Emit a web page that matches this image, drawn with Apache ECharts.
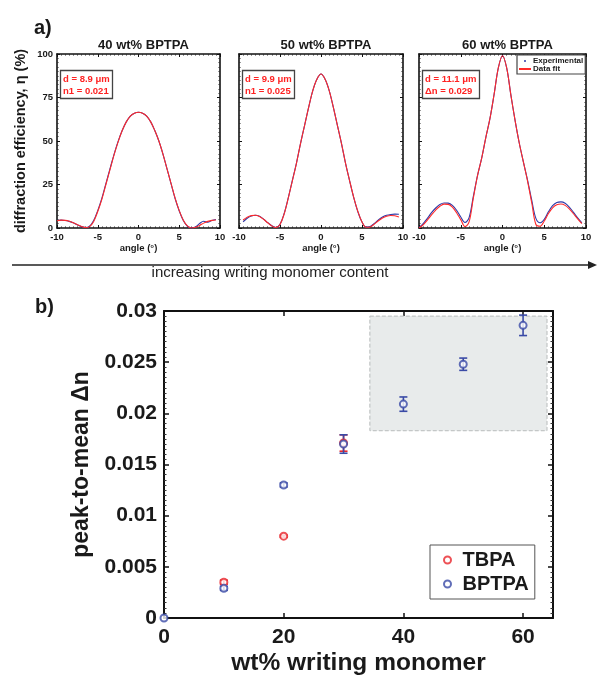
<!DOCTYPE html>
<html><head><meta charset="utf-8">
<script src="https://cdn.jsdelivr.net/npm/echarts@6/dist/echarts.min.js"></script>
<style>html,body{margin:0;padding:0;background:#fff}#c{width:597px;height:680px}</style>
</head><body><div id="c"></div>
<script>
// ---------- DATA ----------
const angles = [-10,-9.5,-9,-8.5,-8,-7.5,-7,-6.5,-6,-5.5,-5,-4.5,-4,-3.5,-3,-2.5,-2,-1.5,-1,-0.5,0,0.5,1,1.5,2,2.5,3,3.5,4,4.5,5,5.5,6,6.5,7,7.5,8,8.5,9,9.5,10];
const exp40 = [4.3,4.5,4.3,3.8,3.0,1.8,0.8,0.2,1.0,4.3,10,17,25.5,34,42.3,49.8,56,61,64.3,66,66.5,66,64.3,61,56,50,42.5,34,25.3,16.8,9.8,4.3,1.0,0.1,0.6,2.6,3.9,3.3,4.3,4.9,null];
const fit40 = [4.2,4.5,4.4,3.9,3.0,1.9,0.9,0.2,0.8,3.8,9.5,16.5,25,33.5,42,49.5,56,61,64.3,66,66.5,66,64.3,61,56,50,42.5,34,25.5,17,10,4.5,1.2,0,0.4,1.5,2.8,3.8,4.4,4.6,null];
const exp50 = [null,3.6,5.6,6.9,7.3,6.7,5.1,3.1,1.3,0.3,2.1,8.2,17.2,27.2,37.2,48.5,59,69.5,79,85.5,88.5,85.5,79,69.5,59,48.5,37,27,17.3,9.3,3.4,0.5,0.8,2.6,4.6,6.3,7.3,7.8,8.0,7.9,null];
const fit50 = [null,4.6,6.2,7.1,7.3,6.6,5.0,3.0,1.2,0.2,2.0,8,17,27,37,48.5,59,69.5,79,85.5,88.5,85.5,79,69.5,59,48.5,37,27,17.5,9.5,3.5,0.4,0.6,2.2,4.2,5.8,6.8,7.2,7.0,6.3,null];
const exp60 = [0.3,2.5,5.5,8.8,11.5,13.5,14.4,14.3,13,10.2,6.3,3.2,6,18,30,40,52,63,77,92,99,92,76.5,62,49,38,27.5,16,5.5,3.0,5,9.3,12.8,14.7,15,14.2,12,9,5.8,3,null];
const fit60 = [0,1.8,4.5,7.5,10.3,12.5,13.7,13.6,12,8.8,4.8,0.8,3.5,17,30,40,52,63,77,92,99,92,76.5,62,49,38,27,14.5,2,1,4,8.3,11.6,13.3,13.8,13,11,8.2,5.2,2.5,null];
const panelTitles = ['40 wt% BPTPA','50 wt% BPTPA','60 wt% BPTPA'];
const panelNotes = ['d = 8.9 μm\nn1 = 0.021','d = 9.9 μm\nn1 = 0.025','d = 11.1 μm\nΔn = 0.029'];
const angleTicks = [-10,-5,0,5,10];
const effTicks = [0,25,50,75,100];

const wt = [0,10,20,30,40,50,60];
const bptpa = [0,0.0029,0.0130,0.0170,0.0209,0.0248,0.0286];
const bptpaErr = [0,0.0002,0.0002,0.0009,0.0007,0.0006,0.0010];
const tbpaWt = [10,20,30];
const tbpa = [0.0035,0.0080,0.0171];
const tbpaErr = [0.0002,0.0001,0.0008];
const highlightBox = {x:[34.4,64], y:[0.0183,0.0295]};

// ---------- STYLE ----------
const RED='#ff2a2a', BLUE='#2d3aa8', BRED='#e8262c', BBLUE='#3a4aa6', INK='#1a1a1a';
const FONT='Liberation Sans';
function pairs(xs, ys){ return xs.map((x,i)=>[x,ys[i]]).filter(p=>p[1]!=null); }

const gridsA = [
  {left:57, top:54, width:163, height:174},
  {left:239, top:54, width:164, height:174},
  {left:419, top:54, width:167, height:174}
];
const gridB = {left:164, top:311, width:389, height:307};

const xAxes=[], yAxes=[], series=[], titles=[];
const lineAx = {onZero:false, lineStyle:{color:'#111', width:1.6}};
gridsA.forEach((g,i)=>{
  const common = {gridIndex:i, type:'value', min:angleTicks[0], max:angleTicks[angleTicks.length-1], interval:5,
    axisLine:lineAx, splitLine:{show:false},
    axisTick:{inside:true, length:3, lineStyle:{color:'#111'}},
    minorTick:{show:true, splitNumber:10, length:1.5, lineStyle:{color:'#333'}}};
  xAxes.push(Object.assign({}, common, {position:'bottom',
    axisLabel:{fontSize:9.5, fontWeight:'bold', color:INK, margin:4, fontFamily:FONT},
    name:'angle (°)', nameLocation:'middle', nameGap:13,
    nameTextStyle:{fontSize:9.5, fontWeight:'bold', color:INK, fontFamily:FONT}}));
  xAxes.push(Object.assign({}, common, {position:'top', axisLabel:{show:false}}));
  const ycommon = {gridIndex:i, type:'value', min:effTicks[0], max:effTicks[effTicks.length-1], interval:25,
    axisLine:lineAx, splitLine:{show:false},
    axisTick:{inside:true, length:3, lineStyle:{color:'#111'}},
    minorTick:{show:true, splitNumber:10, length:1.5, lineStyle:{color:'#333'}}};
  yAxes.push(Object.assign({}, ycommon, {position:'left',
    axisLabel:{show:i===0, fontSize:9.5, fontWeight:'bold', color:INK, margin:4, fontFamily:FONT},
    name: i===0 ? 'diffraction efficiency, η (%)' : '', nameLocation:'middle', nameGap:29,
    nameTextStyle:{fontSize:14.5, fontWeight:'bold', color:INK, fontFamily:FONT}}));
  yAxes.push(Object.assign({}, ycommon, {position:'right', axisLabel:{show:false}}));
  titles.push({text:panelTitles[i], left:g.left+g.width/2, textAlign:'center', top:34,
    textStyle:{fontSize:13, fontWeight:'bold', color:INK, fontFamily:FONT}});
  titles.push({text:panelNotes[i], left:g.left+3, top:70, padding:[3,3,2,3], borderColor:'#444', borderWidth:1.3,
    backgroundColor:'#fff',
    textStyle:{fontSize:9.5, fontWeight:'bold', color:'#f22', lineHeight:12, fontFamily:FONT}});
});
const expSets=[exp40,exp50,exp60], fitSets=[fit40,fit50,fit60];
for(let i=0;i<3;i++){
  series.push({type:'line', name: i===2?'Experimental':'exp'+i, xAxisIndex:2*i, yAxisIndex:2*i,
    data:pairs(angles,expSets[i]), showSymbol:false, symbol:'circle', symbolSize:3, smooth:0.35, connectNulls:false,
    lineStyle:{color:BLUE, width:1.1}, itemStyle:{color:BLUE}, z:2});
  series.push({type:'line', name: i===2?'Data fit':'fit'+i, xAxisIndex:2*i, yAxisIndex:2*i,
    data:pairs(angles,fitSets[i]), showSymbol:false, symbol:'none', smooth:0.35,
    lineStyle:{color:RED, width:1.1}, itemStyle:{color:RED}, z:3});
}

// panel b axes
const lineB = {onZero:false, lineStyle:{color:'#111', width:2}};
xAxes.push({gridIndex:3, type:'value', min:0, max:65, interval:20, position:'bottom',
  axisLine:lineB, splitLine:{show:false},
  axisTick:{inside:true, length:5, lineStyle:{color:'#111', width:1.5}},
  axisLabel:{fontSize:21, fontWeight:'bold', color:INK, margin:9, showMaxLabel:false, fontFamily:FONT},
  name:'wt% writing monomer', nameLocation:'middle', nameGap:33,
  nameTextStyle:{fontSize:24.5, fontWeight:'bold', color:INK, fontFamily:FONT}});
xAxes.push({gridIndex:3, type:'value', min:0, max:65, interval:20, position:'top',
  axisLine:lineB, splitLine:{show:false},
  axisTick:{inside:true, length:5, lineStyle:{color:'#111', width:1.5}}, axisLabel:{show:false}});
const yb = {gridIndex:3, type:'value', min:0, max:0.03, interval:0.005,
  axisLine:lineB, splitLine:{show:false},
  axisTick:{inside:true, length:5, lineStyle:{color:'#111', width:1.5}},
  minorTick:{show:true, splitNumber:10, length:2.5, lineStyle:{color:'#333', width:1}}};
yAxes.push(Object.assign({}, yb, {position:'left',
  axisLabel:{fontSize:21, fontWeight:'bold', color:INK, margin:7, fontFamily:FONT,
    formatter:v=>String(+v.toFixed(4))},
  name:'peak-to-mean Δn', nameLocation:'middle', nameGap:68,
  nameTextStyle:{fontSize:23, fontWeight:'bold', color:INK, fontFamily:FONT}}));
yAxes.push(Object.assign({}, yb, {position:'right', axisLabel:{show:false}}));

function errRows(xs, ys, es){ return xs.map((x,i)=>[x, ys[i]-es[i], ys[i]+es[i]]).filter((r,i)=>es[i]>0); }
function errSeries(rows, color){
  return {type:'custom', xAxisIndex:6, yAxisIndex:6, data:rows, encode:{x:0, y:[1,2]}, silent:true, z:2,
    renderItem(params, api){
      const x=api.value(0), lo=api.value(1), hi=api.value(2);
      const p1=api.coord([x,hi]), p2=api.coord([x,lo]); const hw=4;
      const style={stroke:color, lineWidth:1.6, fill:null};
      return {type:'group', children:[
        {type:'line', shape:{x1:p1[0],y1:p1[1],x2:p2[0],y2:p2[1]}, style},
        {type:'line', shape:{x1:p1[0]-hw,y1:p1[1],x2:p1[0]+hw,y2:p1[1]}, style},
        {type:'line', shape:{x1:p2[0]-hw,y1:p2[1],x2:p2[0]+hw,y2:p2[1]}, style}]};
    }};
}
series.push(errSeries(errRows(tbpaWt,tbpa,tbpaErr), BRED));
series.push({type:'scatter', name:'TBPA', xAxisIndex:6, yAxisIndex:6, data:pairs(tbpaWt,tbpa),
  symbol:'emptyCircle', symbolSize:7, itemStyle:{color:BRED, borderColor:BRED, borderWidth:1.7}, z:2});
series.push(errSeries(errRows(wt,bptpa,bptpaErr), BBLUE));
series.push({type:'scatter', name:'BPTPA', xAxisIndex:6, yAxisIndex:6, data:pairs(wt,bptpa),
  symbol:'emptyCircle', symbolSize:7, itemStyle:{color:BBLUE, borderColor:BBLUE, borderWidth:1.7}, z:2});
series.push({type:'scatter', name:'box', xAxisIndex:6, yAxisIndex:6, data:[], z:10, silent:true,
  markArea:{silent:true, itemStyle:{color:'rgba(200,207,207,0.42)', borderColor:'#b8bcbc', borderWidth:1, borderType:'dashed'},
    data:[[{coord:[highlightBox.x[0], highlightBox.y[1]]},{coord:[highlightBox.x[1], highlightBox.y[0]]}]]}});

titles.push({text:'a)', left:29, top:13, textStyle:{fontSize:20, fontWeight:'bold', color:INK, fontFamily:FONT}});
titles.push({text:'b)', left:30, top:292, textStyle:{fontSize:20, fontWeight:'bold', color:INK, fontFamily:FONT}});

const option = {
  animation:false,
  textStyle:{fontFamily:FONT},
  title:titles,
  grid:[...gridsA.map(g=>Object.assign({}, g, {containLabel:false})), gridB],
  xAxis:xAxes, yAxis:yAxes, series,
  legend:[
    {data:[{name:'Experimental', icon:'circle'},{name:'Data fit'}], orient:'vertical', left:517, top:55,
     padding:[2,2,1,1], itemGap:0, itemWidth:12, itemHeight:2, borderColor:'#444', borderWidth:1.2,
     backgroundColor:'#fff', selectedMode:false,
     textStyle:{fontSize:8, fontWeight:'bold', color:INK, fontFamily:FONT, padding:[0,0,0,-3]}},
    {data:['TBPA','BPTPA'], orient:'vertical', left:430, top:545, padding:[5,6,5,13], itemGap:4,
     itemWidth:20, itemHeight:7, borderColor:'#555', borderWidth:1, selectedMode:false,
     textStyle:{fontSize:20, fontWeight:'bold', color:INK, fontFamily:FONT}}
  ],
  graphic:[
    {type:'line', shape:{x1:12, y1:265, x2:590, y2:265}, style:{stroke:'#222', lineWidth:1.3}},
    {type:'polygon', shape:{points:[[597,265],[588,261],[588,269]]}, style:{fill:'#222'}},
    {type:'text', x:270, y:273, style:{text:'increasing writing monomer content', fontSize:15, fontFamily:FONT,
      fill:'#222', textAlign:'center', textVerticalAlign:'middle'}}
  ]
};
const chart = echarts.init(document.getElementById('c'), null, {renderer:'canvas'});
chart.setOption(option);
</script></body></html>
